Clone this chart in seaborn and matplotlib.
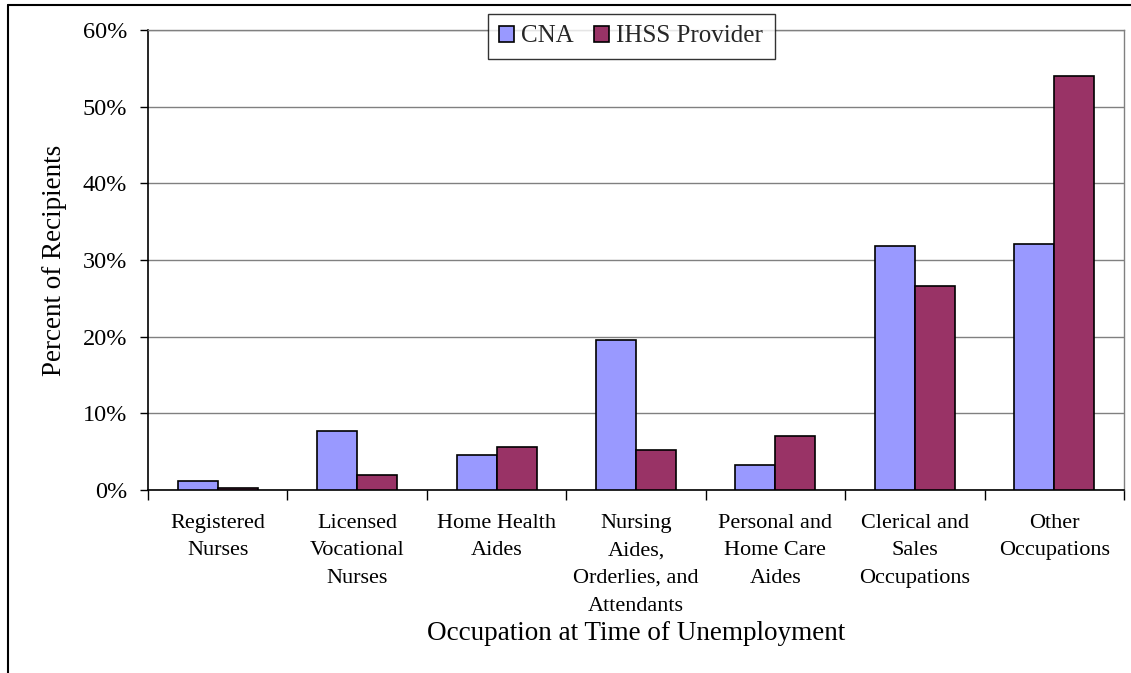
import matplotlib
matplotlib.use("Agg")
import matplotlib.pyplot as plt
import seaborn as sns
import pandas as pd
from matplotlib.lines import Line2D
from matplotlib.ticker import FuncFormatter, FixedLocator

categories = ["Registered\nNurses", "Licensed\nVocational\nNurses", "Home Health\nAides",
              "Nursing\nAides,\nOrderlies, and\nAttendants", "Personal and\nHome Care\nAides",
              "Clerical and\nSales\nOccupations", "Other\nOccupations"]
cna = [1.2, 7.7, 4.6, 19.6, 3.3, 31.8, 32.1]
ihss = [0.3, 2.0, 5.6, 5.2, 7.0, 26.6, 54.0]
series = ["CNA", "IHSS Provider"]
colors = ["#9999FF", "#993366"]

df = pd.DataFrame({
    "Occupation": categories * 2,
    "Percent": cna + ihss,
    "Series": [series[0]] * len(categories) + [series[1]] * len(categories),
})

sns.set_theme(style="white")
plt.rcParams["font.family"] = ["Liberation Serif", "DejaVu Serif"]

fig = plt.figure(figsize=(11.31, 6.73), dpi=100)
ax = fig.add_axes([148 / 1131, 1 - 490 / 673, (1124 - 148) / 1131, (490 - 30) / 673])

sns.barplot(data=df, x="Occupation", y="Percent", hue="Series", palette=colors,
            saturation=1, width=0.574, gap=0, edgecolor="black", linewidth=1.2, ax=ax,
            zorder=3, legend=True)

ax.set_ylim(0, 60)
ax.set_xlim(-0.5, len(categories) - 0.5)
ax.yaxis.set_major_locator(FixedLocator([0, 10, 20, 30, 40, 50, 60]))
ax.yaxis.set_major_formatter(FuncFormatter(lambda v, p: f"{int(v)}%"))
ax.grid(axis="y", color="#808080", linewidth=1, zorder=0)
ax.set_axisbelow(True)

for s in ["left", "bottom"]:
    ax.spines[s].set_color("black")
    ax.spines[s].set_linewidth(1.2)
for s in ["right", "top"]:
    ax.spines[s].set_color("#808080")
    ax.spines[s].set_linewidth(1)

ax.tick_params(axis="y", which="major", direction="out", length=6, width=1, color="black",
               left=True, labelsize=17.5, pad=9, labelcolor="black")
ax.tick_params(axis="x", which="major", length=0, labelsize=16, pad=17, labelcolor="black")
ax.set_xticks([i + 0.5 for i in range(-1, len(categories))], minor=True)
ax.tick_params(axis="x", which="minor", direction="out", length=7, width=1, color="black", bottom=True)
ax.set_xticklabels(categories, linespacing=1.62)

ax.set_xlabel("Occupation at Time of Unemployment", fontsize=19.5, labelpad=4, color="black")
ax.set_ylabel("Percent of Recipients", fontsize=19.5, labelpad=11, color="black")

leg = ax.legend(loc="center", bbox_to_anchor=((631 - 148) / (1124 - 148), (490 - 36.5) / 460),
                ncol=2, frameon=True, fancybox=False, edgecolor="black", fontsize=18,
                handlelength=0.6, handleheight=0.6, handletextpad=0.3, columnspacing=0.8,
                borderpad=0.45, borderaxespad=0)
leg.get_frame().set_linewidth(1)
leg.set_zorder(10)

fig.add_artist(Line2D([8 / 1131, 8 / 1131], [0, 1 - 5 / 673], color="black", linewidth=1.5,
                      transform=fig.transFigure))
fig.add_artist(Line2D([8 / 1131, 1], [1 - 5 / 673, 1 - 5 / 673], color="black", linewidth=1.5,
                      transform=fig.transFigure))

fig.savefig("out.png", dpi=100)
